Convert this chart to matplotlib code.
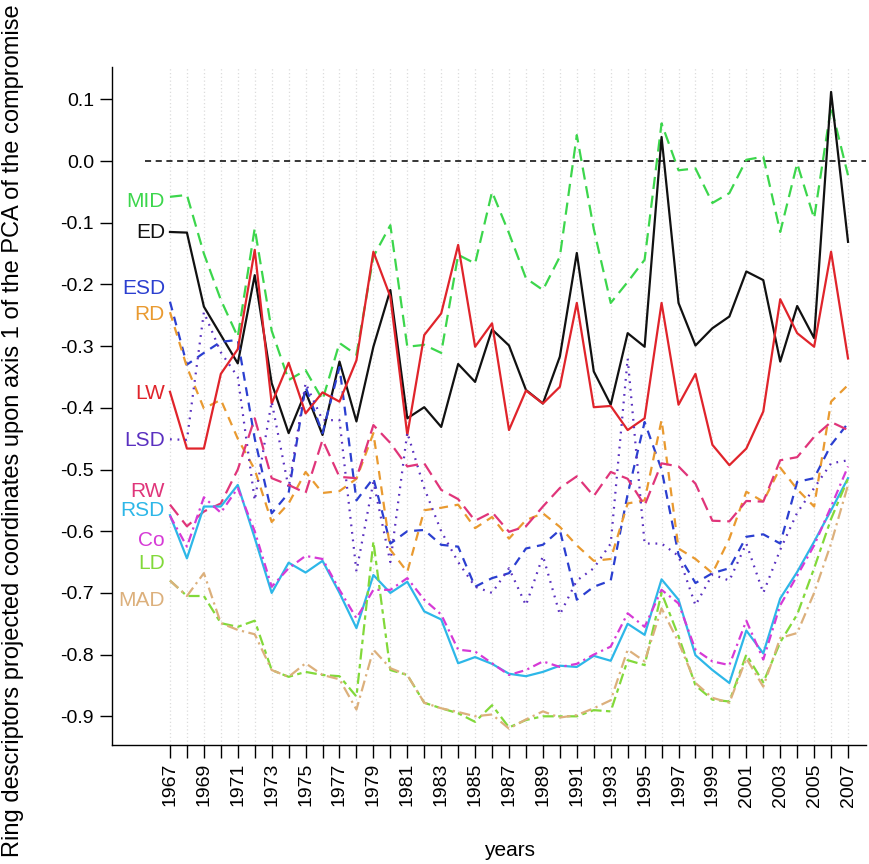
import numpy as np
import matplotlib
matplotlib.use('Agg')
import matplotlib.pyplot as plt

plt.rcParams['font.family'] = ['Liberation Sans', 'DejaVu Sans']

years = np.arange(1967, 2008)

MID = [-0.058, -0.055, -0.15, -0.225, -0.285, -0.109, -0.275, -0.355, -0.339, -0.387,
       -0.295, -0.314, -0.155, -0.104, -0.301, -0.298, -0.311, -0.152, -0.166, -0.050,
       -0.117, -0.190, -0.209, -0.155, 0.042, -0.11, -0.230, -0.196, -0.160, 0.061,
       -0.015, -0.012, -0.068, -0.052, 0.002, 0.007, -0.115, -0.004, -0.093, 0.088, -0.023]
ED = [-0.115, -0.116, -0.236, -0.282, -0.328, -0.185, -0.36, -0.441, -0.374, -0.444,
      -0.325, -0.422, -0.301, -0.209, -0.417, -0.399, -0.431, -0.329, -0.358, -0.273,
      -0.299, -0.371, -0.393, -0.317, -0.149, -0.341, -0.395, -0.279, -0.301, 0.039,
      -0.230, -0.299, -0.271, -0.252, -0.179, -0.193, -0.325, -0.235, -0.287, 0.112, -0.131]
ESD = [-0.228, -0.330, -0.311, -0.293, -0.290, -0.45, -0.571, -0.538, -0.366, -0.441,
       -0.334, -0.55, -0.514, -0.62, -0.60, -0.598, -0.622, -0.625, -0.690, -0.676,
       -0.668, -0.628, -0.622, -0.598, -0.711, -0.690, -0.680, -0.54, -0.423, -0.50,
       -0.638, -0.684, -0.668, -0.66, -0.609, -0.605, -0.62, -0.52, -0.514, -0.46, -0.425]
RD = [-0.245, -0.334, -0.401, -0.387, -0.45, -0.50, -0.585, -0.555, -0.504, -0.538,
      -0.535, -0.515, -0.441, -0.63, -0.666, -0.566, -0.562, -0.557, -0.595, -0.577,
      -0.612, -0.582, -0.571, -0.593, -0.623, -0.648, -0.645, -0.555, -0.55, -0.42,
      -0.628, -0.645, -0.668, -0.612, -0.536, -0.552, -0.497, -0.532, -0.56, -0.39, -0.363]
LW = [-0.374, -0.466, -0.466, -0.345, -0.305, -0.144, -0.393, -0.327, -0.409, -0.375,
      -0.39, -0.323, -0.147, -0.22, -0.444, -0.282, -0.247, -0.136, -0.301, -0.263,
      -0.436, -0.372, -0.393, -0.366, -0.230, -0.399, -0.397, -0.436, -0.417, -0.230,
      -0.395, -0.345, -0.460, -0.493, -0.466, -0.406, -0.224, -0.279, -0.301, -0.147, -0.320]
LSD = [-0.451, -0.452, -0.245, -0.31, -0.35, -0.55, -0.39, -0.53, -0.36, -0.42,
       -0.42, -0.665, -0.52, -0.65, -0.44, -0.53, -0.60, -0.65, -0.69, -0.70,
       -0.66, -0.72, -0.64, -0.735, -0.68, -0.66, -0.62, -0.32, -0.62, -0.62,
       -0.64, -0.72, -0.67, -0.68, -0.62, -0.70, -0.63, -0.57, -0.53, -0.49, -0.485]
RW = [-0.557, -0.592, -0.568, -0.555, -0.50, -0.417, -0.514, -0.525, -0.538, -0.452,
      -0.512, -0.514, -0.428, -0.457, -0.495, -0.490, -0.533, -0.548, -0.583, -0.569,
      -0.601, -0.592, -0.56, -0.53, -0.511, -0.543, -0.504, -0.515, -0.558, -0.49,
      -0.495, -0.523, -0.583, -0.584, -0.551, -0.552, -0.485, -0.48, -0.447, -0.423, -0.436]
RSD = [-0.574, -0.644, -0.560, -0.560, -0.525, -0.611, -0.700, -0.651, -0.667, -0.648,
       -0.70, -0.757, -0.671, -0.700, -0.682, -0.730, -0.743, -0.814, -0.804, -0.815,
       -0.831, -0.835, -0.828, -0.818, -0.820, -0.802, -0.810, -0.750, -0.768, -0.678,
       -0.711, -0.801, -0.825, -0.846, -0.761, -0.798, -0.709, -0.666, -0.617, -0.566, -0.514]
Co = [-0.575, -0.625, -0.545, -0.57, -0.53, -0.60, -0.69, -0.66, -0.64, -0.645,
      -0.695, -0.741, -0.695, -0.695, -0.676, -0.711, -0.735, -0.792, -0.795, -0.814,
      -0.833, -0.825, -0.811, -0.82, -0.815, -0.80, -0.787, -0.733, -0.755, -0.695,
      -0.717, -0.792, -0.811, -0.817, -0.745, -0.808, -0.72, -0.672, -0.623, -0.56, -0.495]
LD = [-0.68, -0.705, -0.705, -0.749, -0.755, -0.745, -0.825, -0.836, -0.828, -0.833,
      -0.835, -0.868, -0.617, -0.825, -0.833, -0.878, -0.887, -0.895, -0.909, -0.882,
      -0.918, -0.906, -0.90, -0.90, -0.90, -0.89, -0.892, -0.809, -0.817, -0.70,
      -0.77, -0.85, -0.873, -0.876, -0.80, -0.845, -0.78, -0.735, -0.66, -0.58, -0.515]
MAD = [-0.68, -0.705, -0.668, -0.749, -0.76, -0.767, -0.825, -0.836, -0.814, -0.833,
       -0.84, -0.889, -0.792, -0.822, -0.833, -0.878, -0.887, -0.893, -0.90, -0.897,
       -0.92, -0.905, -0.892, -0.902, -0.898, -0.887, -0.874, -0.792, -0.811, -0.725,
       -0.78, -0.846, -0.870, -0.878, -0.806, -0.852, -0.773, -0.765, -0.70, -0.62, -0.525]

names = ['MID', 'ED', 'ESD', 'RD', 'LW', 'LSD', 'RW', 'RSD', 'Co', 'LD', 'MAD']
label_y = [-0.066, -0.116, -0.207, -0.249, -0.376, -0.453, -0.536, -0.566, -0.615, -0.652, -0.712]
colors = ['#3cd64c', '#111111', '#2b3fd0', '#e99a30', '#e0242b', '#5a30c0',
          '#e0357a', '#2db7e8', '#d63ad6', '#82d93a', '#dcb07c']
styles = [(0, (5.5, 3)), '-', (0, (4, 3)), (0, (4, 3)), '-', (0, (0.8, 2.6)),
          (0, (6, 3)), '-', (0, (4, 2, 1, 2)), (0, (5, 2, 2, 2)), (0, (5, 2, 1, 2))]
series = [MID, ED, ESD, RD, LW, LSD, RW, RSD, Co, LD, MAD]

fig = plt.figure(figsize=(8.69, 8.64), dpi=100)
ax = fig.add_axes([112 / 869, 119 / 864, 754 / 869, 678 / 864])

for yr in years:
    ax.axvline(yr, color='#dcdcdc', lw=0.9, ls=(0, (1, 2)), zorder=0)
ax.plot([1965.5, 2008.5], [0, 0], color='black', lw=1.1, ls=(0, (4, 3)), zorder=1)

for vals, nm, c, st, ly in zip(series, names, colors, styles, label_y):
    ax.plot(years, vals, color=c, ls=st, lw=1.6, zorder=2)
    ax.text(1966.7, ly, nm, color=c, ha='right', va='center', fontsize=15)

ax.set_xlim(1963.58, 2008.06)
ax.set_ylim(-0.9465, 0.1524)

yt = [0.1, 0.0, -0.1, -0.2, -0.3, -0.4, -0.5, -0.6, -0.7, -0.8, -0.9]
ax.set_yticks(yt)
ax.set_yticklabels(['%.1f' % v for v in yt])
ax.set_xticks(years)
ax.set_xticklabels([str(y) if y % 2 == 1 else '' for y in years], rotation=90)
ax.tick_params(axis='both', direction='out', length=9, width=1, labelsize=14, pad=4)

for s in ['top', 'right']:
    ax.spines[s].set_visible(False)
for s in ['left', 'bottom']:
    ax.spines[s].set_linewidth(1)

fig.text(13 / 869, 1 - 431 / 864,
         'Ring descriptors projected coordinates upon axis 1 of the PCA of the compromise',
         rotation=90, ha='center', va='center', fontsize=17)
fig.text(510 / 869, 1 - 851 / 864, 'years', ha='center', va='center', fontsize=15)

fig.savefig('out.png', dpi=100)
